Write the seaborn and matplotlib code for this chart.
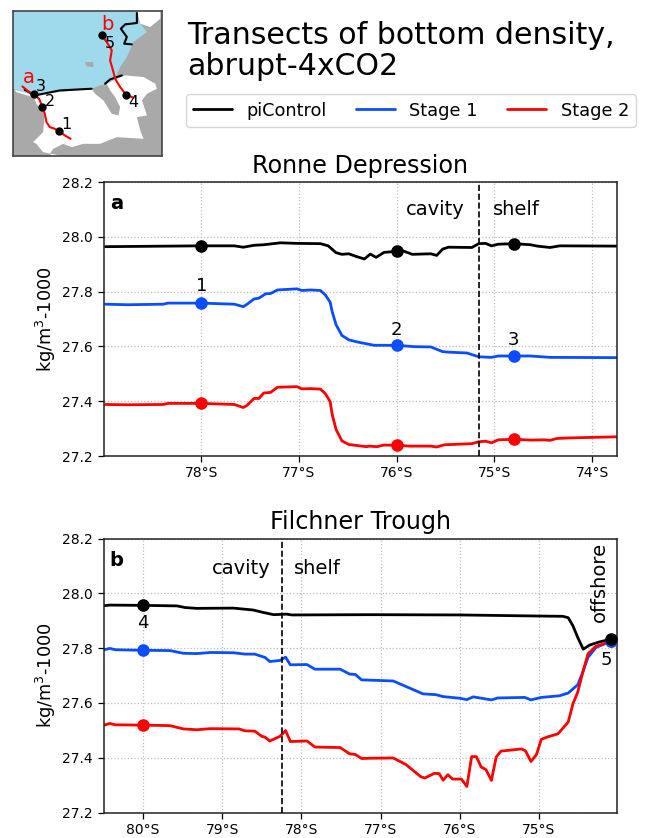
import pandas as pd
import matplotlib.pyplot as plt
import seaborn as sns

# panel a, Ronne Depression
lat_a_black = [-78.98, -78.0, -77.66, -77.57, -77.46, -77.36, -77.19, -77.02, -76.78, -76.70, -76.62, -76.56, -76.49,
               -76.42, -76.33, -76.27, -76.21, -76.13, -76.0, -75.93, -75.84, -75.65, -75.59, -75.53, -75.47, -75.23,
               -75.16, -75.09, -75.03, -74.96, -74.80, -74.63, -74.56, -74.43, -74.33, -73.75]
rho_a_black = [27.964, 27.967, 27.967, 27.962, 27.969, 27.971, 27.978, 27.976, 27.975, 27.967, 27.942, 27.936, 27.938,
               27.929, 27.919, 27.937, 27.925, 27.943, 27.947, 27.948, 27.936, 27.938, 27.932, 27.955, 27.962, 27.961,
               27.975, 27.976, 27.967, 27.973, 27.975, 27.971, 27.966, 27.961, 27.967, 27.966]
lat_a_blue = [-78.98, -78.75, -78.39, -78.34, -78.0, -77.66, -77.57, -77.53, -77.46, -77.41, -77.34, -77.29, -77.22,
              -77.02, -76.97, -76.88, -76.78, -76.73, -76.68, -76.66, -76.62, -76.56, -76.49, -76.40, -76.23, -76.0,
              -75.82, -75.65, -75.53, -75.47, -75.28, -75.16, -75.03, -74.96, -74.80, -74.63, -74.43, -73.75]
rho_a_blue = [27.754, 27.752, 27.754, 27.758, 27.758, 27.754, 27.745, 27.754, 27.773, 27.776, 27.792, 27.793, 27.806,
              27.81, 27.804, 27.806, 27.804, 27.788, 27.761, 27.727, 27.679, 27.64, 27.624, 27.616, 27.604, 27.604,
              27.599, 27.598, 27.581, 27.579, 27.576, 27.562, 27.56, 27.565, 27.565, 27.565, 27.56, 27.559]
lat_a_red = [-78.98, -78.75, -78.39, -78.34, -78.0, -77.66, -77.57, -77.53, -77.46, -77.41, -77.36, -77.29, -77.22,
             -77.02, -76.97, -76.88, -76.78, -76.73, -76.68, -76.66, -76.62, -76.56, -76.49, -76.40, -76.31, -76.28,
             -76.2, -76.13, -76.0, -75.86, -75.65, -75.59, -75.51, -75.23, -75.16, -75.09, -75.03, -74.96, -74.80,
             -74.63, -74.49, -74.43, -74.36, -74.23, -73.75]
rho_a_red = [27.388, 27.387, 27.388, 27.392, 27.392, 27.388, 27.377, 27.385, 27.41, 27.41, 27.43, 27.432, 27.451,
             27.453, 27.445, 27.446, 27.444, 27.428, 27.398, 27.352, 27.297, 27.255, 27.242, 27.238, 27.234, 27.236,
             27.234, 27.24, 27.239, 27.236, 27.236, 27.233, 27.241, 27.245, 27.252, 27.254, 27.248, 27.259, 27.261,
             27.258, 27.259, 27.257, 27.264, 27.266, 27.27]

# panel b, Filchner Trough
lat_b_black = [-80.49, -80.42, -80.0, -79.57, -79.47, -79.32, -78.86, -78.61, -78.48, -78.35, -78.19, -78.12, -77.13,
               -76.0, -74.99, -74.70, -74.63, -74.57, -74.51, -74.44, -74.36, -74.23, -74.11, -74.02]
rho_b_black = [27.955, 27.957, 27.956, 27.954, 27.948, 27.945, 27.946, 27.939, 27.93, 27.922, 27.924, 27.921, 27.922,
               27.921, 27.917, 27.916, 27.911, 27.881, 27.839, 27.796, 27.811, 27.823, 27.831, 27.834]
lat_b_blue = [-80.49, -80.42, -80.35, -80.0, -79.66, -79.49, -79.32, -79.15, -78.86, -78.71, -78.59, -78.46, -78.40,
              -78.27, -78.2, -78.14, -77.93, -77.83, -77.51, -77.39, -77.32, -77.24, -77.13, -76.84, -76.465, -76.30,
              -76.21, -76.0, -75.91, -75.83, -75.60, -75.52, -75.18, -75.10, -74.97, -74.74, -74.63, -74.51, -74.44,
              -74.38, -74.28, -74.11, -74.02]
rho_b_blue = [27.794, 27.799, 27.794, 27.792, 27.791, 27.781, 27.78, 27.784, 27.783, 27.778, 27.778, 27.766, 27.751,
              27.755, 27.767, 27.739, 27.74, 27.723, 27.723, 27.705, 27.704, 27.684, 27.683, 27.68, 27.633, 27.63,
              27.623, 27.617, 27.612, 27.622, 27.611, 27.618, 27.62, 27.611, 27.62, 27.626, 27.636, 27.666, 27.717,
              27.766, 27.802, 27.823, 27.834]
lat_b_red = [-80.49, -80.42, -80.35, -80.0, -79.66, -79.49, -79.32, -79.15, -78.79, -78.71, -78.59, -78.50, -78.46,
             -78.40, -78.27, -78.2, -78.14, -77.93, -77.83, -77.51, -77.39, -77.32, -77.24, -77.13, -76.84, -76.68,
             -76.49, -76.44, -76.32, -76.26, -76.21, -76.15, -76.09, -75.98, -75.91, -75.85, -75.79, -75.73, -75.67,
             -75.60, -75.54, -75.48, -75.22, -75.17, -75.10, -75.03, -74.97, -74.89, -74.76, -74.63, -74.57, -74.51,
             -74.44, -74.38, -74.28, -74.11, -74.02]
rho_b_red = [27.519, 27.525, 27.52, 27.519, 27.517, 27.505, 27.502, 27.506, 27.505, 27.498, 27.497, 27.478, 27.475,
             27.461, 27.478, 27.499, 27.459, 27.461, 27.439, 27.437, 27.414, 27.412, 27.397, 27.398, 27.399, 27.375,
             27.33, 27.326, 27.343, 27.342, 27.318, 27.338, 27.322, 27.322, 27.295, 27.404, 27.404, 27.366, 27.357,
             27.317, 27.402, 27.424, 27.432, 27.425, 27.386, 27.412, 27.467, 27.476, 27.487, 27.53, 27.597, 27.639,
             27.718, 27.779, 27.807, 27.821, 27.834]

# station points on the transects
stn_a_lat = [-78.0, -76.0, -74.8]
stn_a_black = [27.967, 27.947, 27.975]
stn_a_blue = [27.758, 27.604, 27.565]
stn_a_red = [27.392, 27.239, 27.261]
stn_b_lat = [-80.0, -74.09]
stn_b_black = [27.956, 27.833]
stn_b_blue = [27.792, 27.825]
stn_b_red = [27.519, 27.825]

front_a = -75.16
front_b = -78.24

yticks = [27.2, 27.4, 27.6, 27.8, 28.0, 28.2]
xticks_a = [-78, -77, -76, -75, -74]
xlabels_a = ["78°S", "77°S", "76°S", "75°S", "74°S"]
xticks_b = [-80, -79, -78, -77, -76, -75]
xlabels_b = ["80°S", "79°S", "78°S", "77°S", "76°S", "75°S"]

# map outlines, x and y in map units
ocean_x = [40, 415, 412, 420, 440, 400, 380, 360, 345, 320, 300, 275, 130, 105, 40]
ocean_y = [32, 32, 60, 70, 95, 125, 170, 200, 235, 250, 255, 265, 280, 285, 265]
shelf_x = [100, 130, 275, 285, 310, 335, 355, 360, 345, 330, 320, 350, 375, 430, 465, 470, 440, 425, 440, 410, 420,
           430, 350, 300, 250, 215, 190, 160, 150, 160, 195, 130, 110, 100, 130, 135, 110]
shelf_y = [285, 280, 265, 280, 300, 340, 345, 320, 290, 270, 250, 235, 225, 230, 250, 265, 280, 300, 345, 350, 390,
           415, 410, 430, 430, 440, 430, 445, 460, 468, 468, 455, 430, 425, 395, 340, 310]
ne_ice_x = [410, 480, 480, 450, 420]
ne_ice_y = [32, 32, 55, 80, 70]
coast_x = [45, 100, 108, 85, 50]
coast_y = [268, 283, 293, 286, 275]
island_x = [255, 280, 280, 260]
island_y = [185, 185, 200, 198]
sill_w_x = [75, 105, 130, 180, 275]
sill_w_y = [268, 285, 280, 270, 265]
sill_e_x = [315, 330, 365]
sill_e_y = [250, 237, 225]
sill_n_x = [410, 410, 375, 362, 380, 372, 395]
sill_n_y = [38, 68, 72, 85, 110, 130, 132]
track_a_x = [68, 85, 105, 118, 128, 135, 140, 150, 165, 178, 195, 212]
track_a_y = [258, 272, 285, 295, 320, 340, 365, 380, 385, 393, 405, 415]
track_b_x = [305, 320, 335, 330, 340, 345, 360, 378, 400]
track_b_y = [105, 125, 150, 180, 215, 235, 260, 283, 292]
map_stn_x = [178, 128, 102, 378, 306]
map_stn_y = [393, 321, 281, 283, 105]
map_stn_names = ["1", "2", "3", "4", "5"]
map_name_x = [200, 150, 124, 400, 328]
map_name_y = [372, 302, 258, 307, 128]

sns.set_style("ticks", rc={"text.color": "black", "axes.labelcolor": "black",
                           "xtick.color": "black", "ytick.color": "black"})
plt.rcParams["font.family"] = "DejaVu Sans"

BLUE = "#0a4dff"
RED = "#ff0000"


def draw_line(ax, lat, rho, color, lw=2):
    df = pd.DataFrame({"lat": lat, "rho": rho})
    sns.lineplot(data=df, x="lat", y="rho", color=color, lw=lw, estimator=None, sort=False, ax=ax)


def draw_stations(ax, lat, rho, color):
    df = pd.DataFrame({"lat": lat, "rho": rho})
    sns.scatterplot(data=df, x="lat", y="rho", color=color, s=82, linewidth=0, zorder=5, ax=ax)


def style_panel(ax, xlim, xticks, xlabels, title, letter):
    ax.set_xlim(xlim)
    ax.set_ylim(27.2, 28.2)
    ax.set_xticks(xticks)
    ax.set_xticklabels(xlabels)
    ax.set_yticks(yticks)
    ax.set_xlabel("")
    ax.set_ylabel("kg/m$^3$-1000", fontsize=12.8, labelpad=3)
    ax.set_title(title, fontsize=17.2, pad=6.5)
    ax.tick_params(labelsize=10, length=4, width=0.9)
    ax.grid(True, color="#bdbdbd", ls=":", lw=0.9)
    for s in ax.spines.values():
        s.set_color("#222222")
        s.set_linewidth(1.1)
    ax.text(0.012, 0.955, letter, transform=ax.transAxes, fontsize=14, fontweight="bold", va="top")


fig = plt.figure(figsize=(6.46, 8.38), dpi=100)
W, H = 646.0, 838.0
ax_a = fig.add_axes([103.5 / W, 1 - 456 / H, 513 / W, 274 / H])
ax_b = fig.add_axes([103.5 / W, 1 - 812.5 / H, 513 / W, 274 / H])
ax_map = fig.add_axes([13 / W, 1 - 156.5 / H, 149 / W, 145.5 / H])

draw_line(ax_a, lat_a_black, rho_a_black, "black")
draw_line(ax_a, lat_a_blue, rho_a_blue, BLUE)
draw_line(ax_a, lat_a_red, rho_a_red, RED)
draw_stations(ax_a, stn_a_lat, stn_a_black, "black")
draw_stations(ax_a, stn_a_lat, stn_a_blue, BLUE)
draw_stations(ax_a, stn_a_lat, stn_a_red, RED)
ax_a.axvline(front_a, color="black", ls="--", lw=1.2, zorder=4)
style_panel(ax_a, (-79.0, -73.75), xticks_a, xlabels_a, "Ronne Depression", "a")
ax_a.text(-75.30, 28.1, "cavity", fontsize=14, ha="right", va="center")
ax_a.text(-75.01, 28.1, "shelf", fontsize=14, ha="left", va="center")
ax_a.text(-78.0, 27.82, "1", fontsize=13, ha="center", va="center")
ax_a.text(-76.0, 27.66, "2", fontsize=13, ha="center", va="center")
ax_a.text(-74.8, 27.625, "3", fontsize=13, ha="center", va="center")

draw_line(ax_b, lat_b_black, rho_b_black, "black")
draw_line(ax_b, lat_b_blue, rho_b_blue, BLUE)
draw_line(ax_b, lat_b_red, rho_b_red, RED)
draw_stations(ax_b, stn_b_lat, stn_b_red, RED)
draw_stations(ax_b, stn_b_lat, stn_b_blue, BLUE)
draw_stations(ax_b, stn_b_lat, stn_b_black, "black")
ax_b.axvline(front_b, color="black", ls="--", lw=1.2, zorder=4)
style_panel(ax_b, (-80.5, -74.02), xticks_b, xlabels_b, "Filchner Trough", "b")
ax_b.text(-78.39, 28.09, "cavity", fontsize=14, ha="right", va="center")
ax_b.text(-78.09, 28.09, "shelf", fontsize=14, ha="left", va="center")
ax_b.text(-74.24, 28.04, "offshore", fontsize=14, rotation=90, ha="center", va="center")
ax_b.text(-80.0, 27.89, "4", fontsize=13, ha="center", va="center")
ax_b.text(-74.15, 27.755, "5", fontsize=13, ha="center", va="center")

# locator map
ax_map.set_facecolor("#a9a9a9")
ax_map.fill(ocean_x, ocean_y, color="#9fd9ec", lw=0)
ax_map.fill(shelf_x, shelf_y, color="white", lw=0)
ax_map.fill(ne_ice_x, ne_ice_y, color="white", lw=0)
ax_map.fill(coast_x, coast_y, color="white", lw=0)
ax_map.fill(island_x, island_y, color="#a9a9a9", lw=0)
for xs, ys in [(sill_w_x, sill_w_y), (sill_e_x, sill_e_y), (sill_n_x, sill_n_y)]:
    draw_line(ax_map, xs, ys, "black", lw=1.5)
draw_line(ax_map, track_a_x, track_a_y, RED, lw=1.5)
draw_line(ax_map, track_b_x, track_b_y, RED, lw=1.5)
sns.scatterplot(x=map_stn_x, y=map_stn_y, color="black", s=36, linewidth=0, zorder=5, ax=ax_map)
for name, x, y in zip(map_stn_names, map_name_x, map_name_y):
    ax_map.text(x, y, name, fontsize=11.5, ha="center", va="center")
ax_map.text(88, 231, "a", color=RED, fontsize=14, ha="center", va="center")
ax_map.text(323, 73, "b", color=RED, fontsize=14, ha="center", va="center")
ax_map.set_xlim(40, 485)
ax_map.set_ylim(468, 32)
ax_map.set_xticks([])
ax_map.set_yticks([])
ax_map.set_xlabel("")
ax_map.set_ylabel("")
for s in ax_map.spines.values():
    s.set_color("#444444")
    s.set_linewidth(1.2)

fig.text(187 / W, 1 - 81 / H, "Transects of bottom density,\nabrupt-4xCO2", fontsize=21.6, va="bottom", ha="left",
         linespacing=1.1)

handles = [plt.Line2D([], [], color=c, lw=2) for c in ["black", BLUE, RED]]
fig.legend(handles, ["piControl", "Stage 1", "Stage 2"], ncol=3, fontsize=12.8, loc="center",
           bbox_to_anchor=(411 / W, 1 - 110.5 / H), columnspacing=1.65, handlelength=2.2)

fig.savefig("out.png", dpi=100)
